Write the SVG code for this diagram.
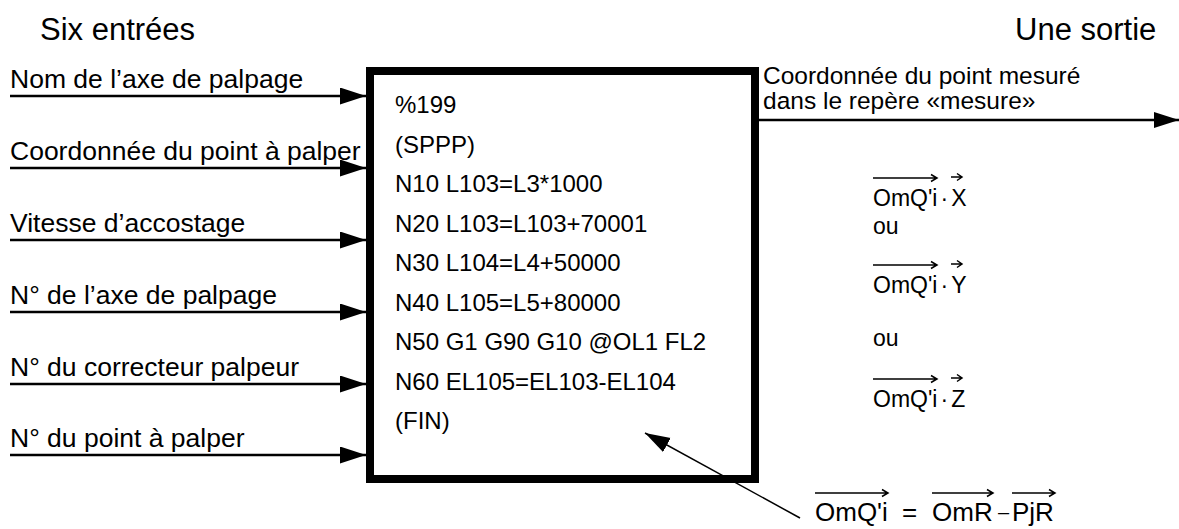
<svg xmlns="http://www.w3.org/2000/svg" width="1179" height="529" viewBox="0 0 1179 529">
<style>
text{font-family:"Liberation Sans",Arial,sans-serif;fill:#000}
.title{font-size:31px}
.lbl{font-size:26.5px}
.out{font-size:24.5px}
.code{font-size:24px}
.math{font-size:23px}
.frm{font-size:26px}
.ln{stroke:#000;stroke-width:2.5;fill:none}
.vec{stroke:#000;stroke-width:1.5;fill:none}
</style>
<defs>
<marker id="ah" markerUnits="userSpaceOnUse" markerWidth="28" markerHeight="20" refX="26" refY="8.5" orient="auto">
<path d="M0,0 L26,8.5 L0,17 Z" fill="#000"/>
</marker>
<marker id="ah2" markerUnits="userSpaceOnUse" markerWidth="28" markerHeight="20" refX="25" refY="8" orient="auto">
<path d="M0,0 L25,8 L0,16 Z" fill="#000"/>
</marker>
</defs>
<text class="title" x="40" y="40">Six entrées</text>
<text class="title" x="1015" y="40">Une sortie</text>
<g id="inputs">
<text class="lbl" x="10" y="88">Nom de l’axe de palpage</text>
<text class="lbl" x="10" y="160">Coordonnée du point à palper</text>
<text class="lbl" x="10" y="232">Vitesse d’accostage</text>
<text class="lbl" x="10" y="304">N° de l’axe de palpage</text>
<text class="lbl" x="10" y="376">N° du correcteur palpeur</text>
<text class="lbl" x="10" y="447">N° du point à palper</text>
</g>
<g id="program">
<rect x="370" y="71" width="385" height="408" fill="#fff" stroke="#000" stroke-width="8"/>
<text class="code" x="395" y="113">%199</text>
<text class="code" x="395" y="152.5">(SPPP)</text>
<text class="code" x="395" y="192">N10 L103=L3*1000</text>
<text class="code" x="395" y="231.5">N20 L103=L103+70001</text>
<text class="code" x="395" y="271">N30 L104=L4+50000</text>
<text class="code" x="395" y="310.5">N40 L105=L5+80000</text>
<text class="code" x="395" y="350">N50 G1 G90 G10 @OL1 FL2</text>
<text class="code" x="395" y="389.5">N60 EL105=EL103-EL104</text>
<text class="code" x="395" y="429">(FIN)</text>
</g>
<g id="output">
<text class="out" x="763" y="84">Coordonnée du point mesuré</text>
<text class="out" x="763" y="109">dans le repère «mesure»</text>
<text class="math" x="873" y="206">OmQ'i<tspan dx="3">·</tspan><tspan dx="3">X</tspan></text>
<path class="vec" d="M873,178 H937 M931,174.5 L937,178 L931,181.5"/>
<path class="vec" d="M951,177 H962 M957,173.5 L962,177 L957,180.5"/>
<text class="math" x="873" y="234">ou</text>
<text class="math" x="873" y="293">OmQ'i<tspan dx="3">·</tspan><tspan dx="3">Y</tspan></text>
<path class="vec" d="M873,265 H937 M931,261.5 L937,265 L931,268.5"/>
<path class="vec" d="M951,264 H962 M957,260.5 L962,264 L957,267.5"/>
<text class="math" x="873" y="346">ou</text>
<text class="math" x="873" y="407">OmQ'i<tspan dx="3">·</tspan><tspan dx="3">Z</tspan></text>
<path class="vec" d="M873,379 H937 M931,375.5 L937,379 L931,382.5"/>
<path class="vec" d="M951,378 H962 M957,374.5 L962,378 L957,381.5"/>
</g>
<g id="formula">
<text class="frm" x="815" y="521">OmQ'i</text>
<text class="frm" x="902" y="521">=</text>
<text class="frm" x="932" y="521">OmR</text>
<text class="frm" x="998" y="519" style="font-size:20px">–</text>
<text class="frm" x="1012" y="521">PjR</text>
<path class="vec" d="M815,493 H888 M882,489.5 L888,493 L882,496.5"/>
<path class="vec" d="M932,493 H993 M987,489.5 L993,493 L987,496.5"/>
<path class="vec" d="M1012,493 H1055 M1049,489.5 L1055,493 L1049,496.5"/>
</g>
<g id="connectors">
<line class="ln" x1="10" y1="96" x2="366" y2="96" marker-end="url(#ah)"/>
<line class="ln" x1="10" y1="168" x2="366" y2="168" marker-end="url(#ah)"/>
<line class="ln" x1="10" y1="240" x2="366" y2="240" marker-end="url(#ah)"/>
<line class="ln" x1="10" y1="312" x2="366" y2="312" marker-end="url(#ah)"/>
<line class="ln" x1="10" y1="384" x2="366" y2="384" marker-end="url(#ah)"/>
<line class="ln" x1="10" y1="455" x2="366" y2="455" marker-end="url(#ah)"/>
<line class="ln" x1="759" y1="120" x2="1179" y2="120" marker-end="url(#ah2)"/>
<line x1="800" y1="518" x2="645" y2="433" stroke="#000" stroke-width="1.5" marker-end="url(#ah2)"/>
</g>
</svg>
